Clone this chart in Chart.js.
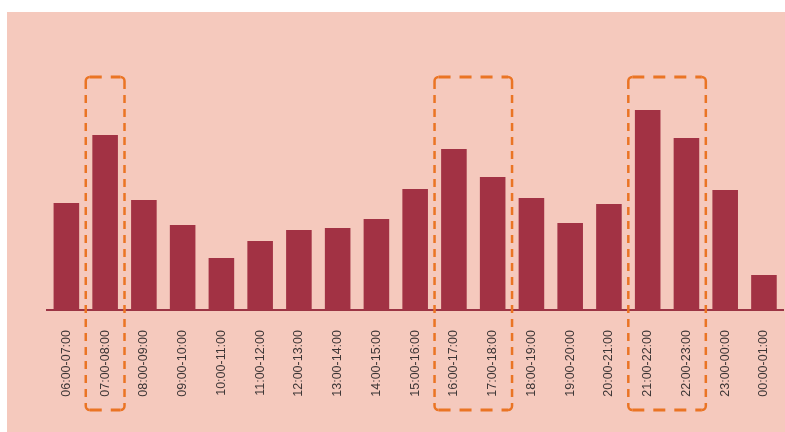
<!DOCTYPE html>
<html>
<head>
  <title>Hourly bars</title>
  <script src="https://cdn.jsdelivr.net/npm/chart.js"></script>
  <style>
    html, body { margin: 0; padding: 0; background: #ffffff; overflow: hidden; }
    #bg { position: absolute; left: 7px; top: 12px; width: 778px; height: 420px; background: #f5c9bd; }
    #wrap { position: absolute; left: 0; top: 0; width: 785px; height: 432px; overflow: hidden; }
  </style>
</head>
<body>
  <div id="bg"></div>
  <div id="wrap"><canvas id="hours" width="791" height="432"></canvas></div>
  <script>
    // time slots along the x axis
    const slots = ['06:00-07:00', '07:00-08:00', '08:00-09:00', '09:00-10:00', '10:00-11:00',
      '11:00-12:00', '12:00-13:00', '13:00-14:00', '14:00-15:00', '15:00-16:00', '16:00-17:00',
      '17:00-18:00', '18:00-19:00', '19:00-20:00', '20:00-21:00', '21:00-22:00', '22:00-23:00',
      '23:00-00:00', '00:00-01:00'];
    // bar heights (no axis shown, relative units)
    const values = [107, 175, 110, 85, 52, 69, 80, 82, 91, 121, 161, 133, 112, 87, 106, 200, 172, 120, 35];
    // peak periods outlined with dashed boxes (first and last slot index)
    const peakStart = [1, 10, 15];
    const peakEnd = [1, 11, 16];
    const yTop = 233;

    const peakBoxes = {
      id: 'peakBoxes',
      afterDraw(chart) {
        const ctx = chart.ctx;
        const x = chart.scales.x;
        const half = (x.getPixelForValue(1) - x.getPixelForValue(0)) / 2;
        const top = chart.chartArea.top;
        const bottom = chart.chartArea.bottom + 100;
        const r = 4;
        ctx.save();
        ctx.strokeStyle = '#ea7424';
        ctx.lineCap = 'butt';
        for (let i = 0; i < peakStart.length; i++) {
          const l = x.getPixelForValue(peakStart[i]) - half;
          const rt = x.getPixelForValue(peakEnd[i]) + half;
          // horizontal edges
          ctx.lineWidth = 3;
          ctx.setLineDash([12, 9]);
          ctx.beginPath();
          ctx.moveTo(l + r, top); ctx.lineTo(rt - r, top);
          ctx.moveTo(l + r, bottom); ctx.lineTo(rt - r, bottom);
          ctx.stroke();
          // vertical edges
          ctx.lineWidth = 2.5;
          ctx.setLineDash([8, 6]);
          ctx.beginPath();
          ctx.moveTo(l, top + r); ctx.lineTo(l, bottom - r);
          ctx.moveTo(rt, top + r); ctx.lineTo(rt, bottom - r);
          ctx.stroke();
          // rounded corners
          ctx.setLineDash([]);
          ctx.beginPath();
          ctx.arc(l + r, top + r, r, Math.PI, 1.5 * Math.PI);
          ctx.moveTo(rt - r, top); ctx.arc(rt - r, top + r, r, 1.5 * Math.PI, 2 * Math.PI);
          ctx.moveTo(rt, bottom - r); ctx.arc(rt - r, bottom - r, r, 0, 0.5 * Math.PI);
          ctx.moveTo(l + r, bottom); ctx.arc(l + r, bottom - r, r, 0.5 * Math.PI, Math.PI);
          ctx.stroke();
        }
        ctx.restore();
      }
    };

    new Chart(document.getElementById('hours'), {
      type: 'bar',
      data: {
        labels: slots,
        datasets: [{
          data: values,
          backgroundColor: '#a23244',
          borderWidth: 0,
          categoryPercentage: 1.0,
          barPercentage: 0.66
        }]
      },
      options: {
        responsive: false,
        animation: false,
        devicePixelRatio: 1,
        layout: { padding: { left: 47, right: 2, top: 77, bottom: 0 } },
        plugins: { legend: { display: false }, tooltip: { enabled: false } },
        scales: {
          x: {
            grid: { display: false },
            border: { display: true, color: '#9b3444', width: 2 },
            ticks: {
              color: '#3d3636',
              font: { family: 'Liberation Sans', size: 12.5 },
              minRotation: 90,
              maxRotation: 90,
              padding: 12,
              autoSkip: false
            },
            afterFit(scale) { scale.height = 122; }
          },
          y: { display: false, min: 0, max: yTop }
        }
      },
      plugins: [peakBoxes]
    });
  </script>
</body>
</html>
